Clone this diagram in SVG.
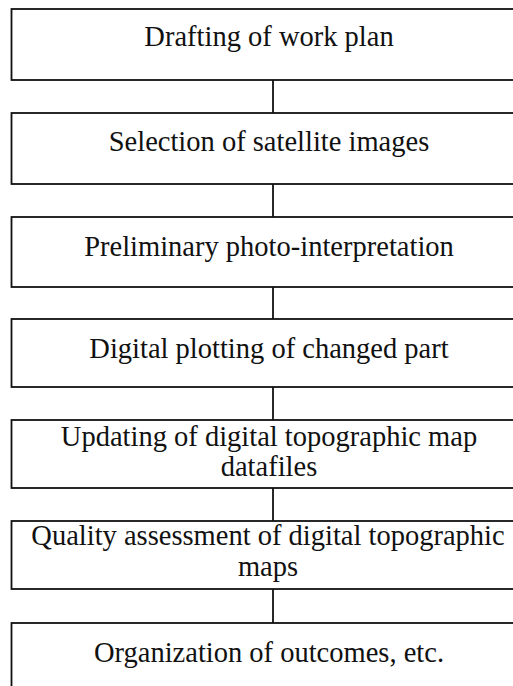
<svg xmlns="http://www.w3.org/2000/svg" width="513" height="686" viewBox="0 0 513 686">
  <style>
    .box { fill: #ffffff; stroke: #111111; stroke-width: 1.8; }
    .link { stroke: #111111; stroke-width: 1.8; fill: none; }
    .label { font-family: "Liberation Serif", "Times New Roman", serif; font-size: 28.5px; fill: #111111; text-anchor: middle; }
  </style>
  <rect width="513" height="686" fill="#ffffff"/>

  <!-- vertical links between consecutive steps -->
  <g id="connectors">
    <line class="link" x1="273" y1="80" x2="273" y2="113"/>
    <line class="link" x1="273" y1="184" x2="273" y2="217"/>
    <line class="link" x1="273" y1="287" x2="273" y2="319"/>
    <line class="link" x1="273" y1="387" x2="273" y2="420"/>
    <line class="link" x1="273" y1="488" x2="273" y2="521"/>
    <line class="link" x1="273" y1="589" x2="273" y2="623"/>
  </g>

  <g id="step1">
    <rect class="box" x="11.5" y="9" width="530" height="71"/>
    <text class="label" x="269" y="46">Drafting of work plan</text>
  </g>
  <g id="step2">
    <rect class="box" x="11.5" y="113" width="530" height="71"/>
    <text class="label" x="269" y="151">Selection of satellite images</text>
  </g>
  <g id="step3">
    <rect class="box" x="11.5" y="217" width="530" height="70"/>
    <text class="label" x="269" y="256">Preliminary photo-interpretation</text>
  </g>
  <g id="step4">
    <rect class="box" x="11.5" y="319" width="530" height="68"/>
    <text class="label" x="269" y="358">Digital plotting of changed part</text>
  </g>
  <g id="step5">
    <rect class="box" x="11.5" y="420" width="530" height="68"/>
    <text class="label" x="269" y="446">Updating of digital topographic map</text>
    <text class="label" x="269" y="476">datafiles</text>
  </g>
  <g id="step6">
    <rect class="box" x="11.5" y="521" width="530" height="68"/>
    <text class="label" x="268" y="545">Quality assessment of digital topographic</text>
    <text class="label" x="268" y="576">maps</text>
  </g>
  <g id="step7">
    <rect class="box" x="11.5" y="623" width="530" height="80"/>
    <text class="label" x="269" y="662">Organization of outcomes, etc.</text>
  </g>
</svg>
